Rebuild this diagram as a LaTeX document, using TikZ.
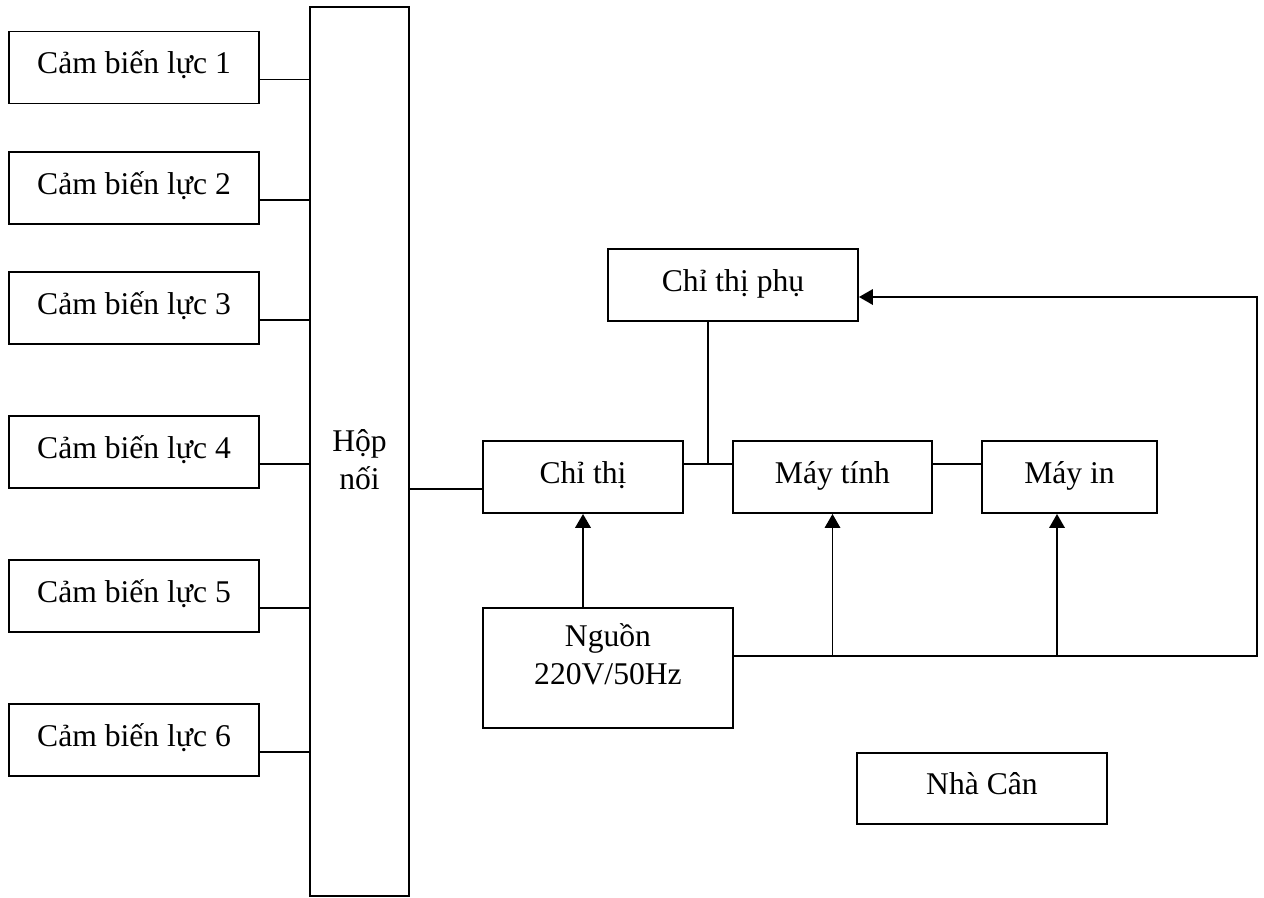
\documentclass[tikz,border=0pt]{standalone}
\usepackage{fontspec}
\setmainfont{Liberation Serif}
\usetikzlibrary{arrows.meta}

\begin{document}
\begin{tikzpicture}[x=0.02cm,y=-0.02cm,line width=1.1pt,
  khoi/.style={draw,rectangle,inner sep=0pt,minimum width=5cm,minimum height=1.44cm,
    text height=0.5cm,text depth=0.26cm,font=\fontsize{18}{21.5}\selectfont},
  nhan/.style={align=center,font=\fontsize{18}{21.5}\selectfont},
  mt/.style={-{Triangle[length=0.28cm,width=0.31cm]}}]
\useasboundingbox (0,0) rectangle (1264,897);
% cam bien va hop noi
\foreach \i/\y in {1/67.5,2/188,3/308,4/452,5/596,6/740}
  \node (cb\i) [khoi] at (134,\y) {Cảm biến lực \i};
\node (hop) [khoi,minimum width=1.98cm,minimum height=17.78cm] at (359.5,451.5) {};
\node [nhan] at (359.5,460) {Hộp\\nối};
\foreach \i in {1,...,6}
  \draw ([yshift=-0.24cm]cb\i.east) -- ([yshift=-0.24cm]cb\i.east -| hop.west);
% cac khoi ben phai
\node (phu) [khoi] at (733,285) {Chỉ thị phụ};
\node (chithi) [khoi,minimum width=4cm] at (583,477) {Chỉ thị};
\node (maytinh) [khoi,minimum width=3.98cm] at (832.5,477) {Máy tính};
\node (mayin) [khoi,minimum width=3.5cm] at (1069.5,477) {Máy in};
\node (nguon) [khoi,minimum height=2.4cm] at (608,668) {};
\node [nhan] at (608,654) {Nguồn\\220V/50Hz};
\node (nhacan) [khoi,minimum height=1.42cm] at (982,788.5) {Nhà Cân};
\draw ([yshift=-0.24cm]chithi.west -| hop.east) -- ([yshift=-0.24cm]chithi.west);
\draw ([yshift=0.26cm]chithi.east) -- ([yshift=0.26cm]maytinh.west);
\draw ([yshift=0.26cm]maytinh.east) -- ([yshift=0.26cm]mayin.west);
\coordinate (re) at (708,464);
\draw (re |- phu.south) -- (re);
% nguon
\draw[mt,line width=1.4pt] (nguon.north -| chithi.south) -- (chithi.south);
\coordinate (bus) at ([yshift=0.24cm]nguon.east);
\coordinate (goc) at (1257,0);
\draw[mt] (bus) -- (bus -| goc) -- ([yshift=-0.24cm]phu.east -| goc) -- ([yshift=-0.24cm]phu.east);
\draw[mt] (bus -| maytinh.south) -- (maytinh.south);
\draw[mt] ([xshift=-0.25cm]mayin.south |- bus) -- ([xshift=-0.25cm]mayin.south);
\end{tikzpicture}
\end{document}
